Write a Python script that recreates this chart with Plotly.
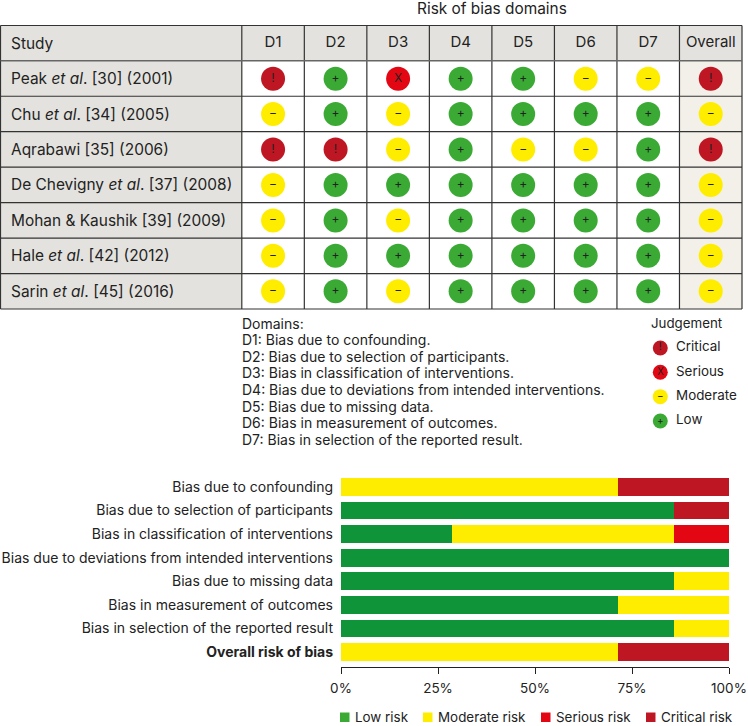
import plotly.graph_objects as go

studies = ["Peak <i>et al</i>. [30] (2001)", "Chu <i>et al</i>. [34] (2005)", "Aqrabawi [35] (2006)",
           "De Chevigny <i>et al</i>. [37] (2008)", "Mohan &amp; Kaushik [39] (2009)",
           "Hale <i>et al</i>. [42] (2012)", "Sarin <i>et al</i>. [45] (2016)"]
columns = ["D1", "D2", "D3", "D4", "D5", "D6", "D7", "Overall"]
judgements = [
    ["Critical", "Low", "Serious", "Low", "Low", "Moderate", "Moderate", "Critical"],
    ["Moderate", "Low", "Moderate", "Low", "Low", "Low", "Low", "Moderate"],
    ["Critical", "Critical", "Moderate", "Low", "Moderate", "Moderate", "Low", "Critical"],
    ["Moderate", "Low", "Low", "Low", "Low", "Low", "Low", "Moderate"],
    ["Moderate", "Low", "Moderate", "Low", "Low", "Low", "Low", "Moderate"],
    ["Moderate", "Low", "Low", "Low", "Low", "Low", "Low", "Moderate"],
    ["Moderate", "Low", "Moderate", "Low", "Low", "Low", "Low", "Moderate"],
]
levels = ["Critical", "Serious", "Moderate", "Low"]
glyphs = ["!", "X", "−", "+"]
level_colors = ["#BE1622", "#E30613", "#FFED00", "#3AAA35"]

domain_lines = ["Domains:", "D1: Bias due to confounding.", "D2: Bias due to selection of participants.",
                "D3: Bias in classification of interventions.",
                "D4: Bias due to deviations from intended interventions.",
                "D5: Bias due to missing data.", "D6: Bias in measurement of outcomes.",
                "D7: Bias in selection of the reported result."]

bar_labels = ["Bias due to confounding", "Bias due to selection of participants",
              "Bias in classification of interventions", "Bias due to deviations from intended interventions",
              "Bias due to missing data", "Bias in measurement of outcomes",
              "Bias in selection of the reported result", "<b>Overall risk of bias</b>"]
low_risk = [0, 85.7, 28.6, 100, 85.7, 71.4, 85.7, 0]
moderate_risk = [71.4, 0, 57.1, 0, 14.3, 28.6, 14.3, 71.4]
serious_risk = [0, 0, 14.3, 0, 0, 0, 0, 0]
critical_risk = [28.6, 14.3, 0, 0, 0, 0, 0, 28.6]
bar_series = [("Low risk", low_risk, "#0F9439"), ("Moderate risk", moderate_risk, "#FFED00"),
              ("Serious risk", serious_risk, "#E30613"), ("Critical risk", critical_risk, "#BE1622")]
legend_names = ["Low risk", "Moderate risk", "Serious risk", "Critical risk"]
legend_colors = ["#3AAA35", "#FFED00", "#E30613", "#BE1622"]
x_ticks = [0, 25, 50, 75, 100]

W, H = 748, 726
FONT = "Inter"
TXT = "#222222"
px = lambda v: v / W
py = lambda v: 1 - v / H

fig = go.Figure()
header = "Study"
rows = [header] + studies

fig.add_trace(go.Scatter(x=columns, y=[header] * len(columns), mode="text", text=columns,
                         textfont=dict(family=FONT, size=15, color=TXT), showlegend=False,
                         hoverinfo="skip", xaxis="x", yaxis="y"))
for lev, gl, col in zip(levels, glyphs, level_colors):
    xs, ys = [], []
    for s, row in zip(studies, judgements):
        for c, j in zip(columns, row):
            if j == lev:
                xs.append(c)
                ys.append(s)
    fig.add_trace(go.Scatter(x=xs, y=ys, mode="markers+text", text=[gl] * len(xs),
                             textposition="middle center",
                             textfont=dict(family=FONT, size=12, color="#222222"),
                             marker=dict(size=24, color=col, line=dict(width=0)),
                             showlegend=False, xaxis="x", yaxis="y"))

fig.add_trace(go.Scatter(x=[0] * 4, y=levels, mode="markers+text", text=glyphs,
                         textposition="middle center",
                         textfont=dict(family=FONT, size=10, color="#222222"),
                         marker=dict(size=15, color=level_colors, line=dict(width=0)),
                         showlegend=False, xaxis="x3", yaxis="y3"))
fig.add_trace(go.Scatter(x=[1.05] * 4, y=levels, mode="text", text=levels, textposition="middle right",
                         textfont=dict(family=FONT, size=13.4, color=TXT),
                         showlegend=False, xaxis="x3", yaxis="y3"))

for name, vals, col in bar_series:
    fig.add_trace(go.Bar(x=vals, y=bar_labels, orientation="h", name=name,
                         marker=dict(color=col, line=dict(width=0)),
                         xaxis="x2", yaxis="y2", showlegend=False))

shapes = []
def rect(x0, y0, x1, y1, fill, layer="below"):
    shapes.append(dict(type="rect", xref="paper", yref="paper", x0=px(x0), x1=px(x1), y0=py(y0), y1=py(y1),
                       fillcolor=fill, line=dict(width=0), layer=layer))
def line(x0, y0, x1, y1, col="#333333", w=1.2):
    shapes.append(dict(type="line", xref="paper", yref="paper", x0=px(x0), x1=px(x1), y0=py(y0), y1=py(y1),
                       line=dict(color=col, width=w), layer="above"))

T, B = 25.5, 309.0
HB = 60.8
RH = (B - HB) / 7
L, S, R = 0.5, 241.8, 742.0
CW = (R - S) / 8
rect(L, T, S, B, "#E4E2DE")
rect(S, T, R, HB, "#E4E2DE")
rect(S + 7 * CW, HB, R, B, "#F3F0E9")
for i in range(9):
    line(S + i * CW, T, S + i * CW, B)
line(L, T, L, B)
line(L, T, R, T)
line(L, HB, R, HB, "#666666", 1.6)
for i in range(1, 8):
    line(L, HB + i * RH, R, HB + i * RH)

ann = []
def text(x, y, s, size=15, anchor="left"):
    ann.append(dict(xref="paper", yref="paper", x=px(x), y=py(y), text=s, showarrow=False, xanchor=anchor,
                    yanchor="middle", align=anchor, borderpad=0, font=dict(family=FONT, size=size, color=TXT)))
text(491.5, 9, "Risk of bias domains", size=15.4, anchor="center")
for lab in rows:
    ann.append(dict(xref="paper", yref="y", x=px(9.5), y=lab, text=lab, showarrow=False, xanchor="left",
                    yanchor="middle", borderpad=0, font=dict(family=FONT, size=15.45, color=TXT)))
for i, s in enumerate(domain_lines):
    text(241, 323 + i * 16.6, s, size=14)
text(650, 323, "Judgement", size=13.3)

# bar legend
SW = 9.5
swatch_x = [340, 423, 541, 646]
for name, col, sx in zip(legend_names, legend_colors, swatch_x):
    rect(sx, 712.5, sx + SW, 722, col, layer="above")
    text(sx + SW + 4.5, 717, name, size=13.4)

Y_TOP2, Y_BOT2 = 475.2, 667
fig.update_layout(
    width=W, height=H, margin=dict(l=0, r=0, t=0, b=0, autoexpand=False), paper_bgcolor="white",
    plot_bgcolor="rgba(0,0,0,0)",
    barmode="stack", bargap=0.25, shapes=shapes, annotations=ann, showlegend=False,
    font=dict(family=FONT, size=14, color=TXT),
    xaxis=dict(domain=[px(S), px(R)], type="category", categoryorder="array", categoryarray=columns,
               range=[-0.5, 7.5], visible=False, anchor="y"),
    yaxis=dict(domain=[py(B), py(T)], type="category", categoryorder="array", categoryarray=rows,
               range=[7.5, -0.5], visible=False, anchor="x"),
    xaxis3=dict(domain=[px(652), px(748)], range=[-0.553, 5.847], visible=False, anchor="y3", fixedrange=True),
    yaxis3=dict(domain=[py(433.2), py(335.8)], type="category", categoryorder="array", categoryarray=levels,
                range=[3.5, -0.5], visible=False, anchor="x3"),
    xaxis2=dict(domain=[px(341), px(729)], range=[0, 100], tickvals=x_ticks, ticktext=[f"{v}%" for v in x_ticks],
                showgrid=False, zeroline=False, showline=True, linecolor="#222222", linewidth=1,
                ticks="outside", ticklen=6, tickcolor="#222222", anchor="y2", automargin=False,
                ticklabelstandoff=3, tickfont=dict(family=FONT, size=13.5, color=TXT)),
    yaxis2=dict(domain=[py(Y_BOT2), py(Y_TOP2)], type="category", categoryorder="array", categoryarray=bar_labels,
                range=[7.64, -0.5], showgrid=False, showline=False, ticks="", anchor="x2", automargin=False,
                ticklabelstandoff=7, tickfont=dict(family=FONT, size=14, color=TXT)),
)
fig.write_html("out.html", post_script="document.body.style.margin='0';",
               config=dict(displayModeBar=False))
